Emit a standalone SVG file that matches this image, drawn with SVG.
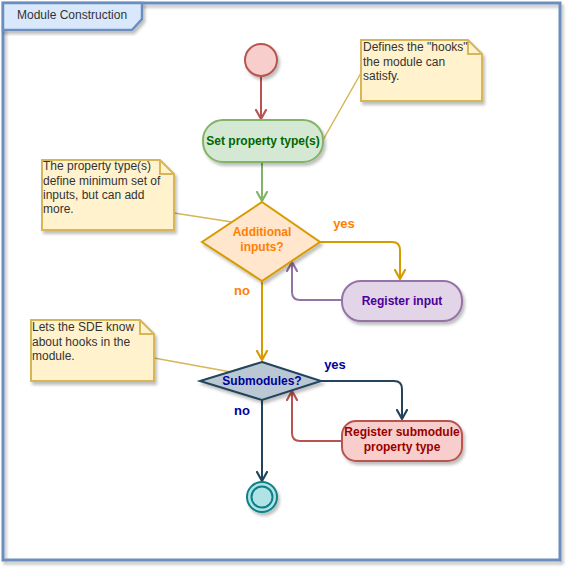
<svg xmlns="http://www.w3.org/2000/svg" width="577" height="578" viewBox="0 0 577 578">
  <defs>
    <filter id="shadow" x="-20%" y="-20%" width="140%" height="140%">
      <feDropShadow dx="2" dy="3" stdDeviation="1.5" flood-color="#000" flood-opacity="0.25"/>
    </filter>
    <marker id="ah-red" viewBox="0 0 12 12" refX="10" refY="6" markerWidth="12" markerHeight="12" markerUnits="userSpaceOnUse" orient="auto">
      <path d="M1,1 L10,6 L1,11" fill="none" stroke="#b85450" stroke-width="2.2" stroke-linejoin="round" stroke-linecap="round"/>
    </marker>
    <marker id="ah-green" viewBox="0 0 12 12" refX="10" refY="6" markerWidth="12" markerHeight="12" markerUnits="userSpaceOnUse" orient="auto">
      <path d="M1,1 L10,6 L1,11" fill="none" stroke="#82b366" stroke-width="2.2" stroke-linejoin="round" stroke-linecap="round"/>
    </marker>
    <marker id="ah-orange" viewBox="0 0 12 12" refX="10" refY="6" markerWidth="12" markerHeight="12" markerUnits="userSpaceOnUse" orient="auto">
      <path d="M1,1 L10,6 L1,11" fill="none" stroke="#d79b00" stroke-width="2.2" stroke-linejoin="round" stroke-linecap="round"/>
    </marker>
    <marker id="ah-purple" viewBox="0 0 12 12" refX="10" refY="6" markerWidth="12" markerHeight="12" markerUnits="userSpaceOnUse" orient="auto">
      <path d="M1,1 L10,6 L1,11" fill="none" stroke="#9673a6" stroke-width="2.2" stroke-linejoin="round" stroke-linecap="round"/>
    </marker>
    <marker id="ah-navy" viewBox="0 0 12 12" refX="10" refY="6" markerWidth="12" markerHeight="12" markerUnits="userSpaceOnUse" orient="auto">
      <path d="M1,1 L10,6 L1,11" fill="none" stroke="#23445d" stroke-width="2.2" stroke-linejoin="round" stroke-linecap="round"/>
    </marker>
  </defs>
  <style>
    text { font-family: "Liberation Sans", Arial, Helvetica, sans-serif; }
    .note { fill: #fff2cc; stroke: #d6b656; stroke-width: 2; filter: url(#shadow); }
    .note-text { font-size: 12px; fill: #333333; }
    .box-text { font-size: 12px; font-weight: bold; text-anchor: middle; }
    .edge { fill: none; stroke-width: 2; }
    .note-link { fill: none; stroke: #d6b656; stroke-width: 1.5; }
    .edge-label { font-size: 13px; font-weight: bold; text-anchor: middle; }
  </style>

  <rect width="577" height="578" fill="#ffffff"/>

  <!-- frame -->
  <g id="frame">
    <rect x="3" y="3" width="557" height="557" fill="none" stroke="#6c8ebf" stroke-width="3" filter="url(#shadow)"/>
    <path d="M3,3 H142 V19 L132,30 H3 Z" fill="#dae8fc" stroke="#6c8ebf" stroke-width="2.5" filter="url(#shadow)"/>
    <text x="17" y="19" font-size="12" fill="#333333">Module Construction</text>
  </g>

  <!-- note links -->
  <g id="note-links">
    <line class="note-link" x1="361" y1="73" x2="323" y2="140"/>
    <line class="note-link" x1="174" y1="213" x2="232" y2="222"/>
    <line class="note-link" x1="154" y1="358" x2="231" y2="372"/>
  </g>

  <!-- connectors -->
  <g id="connectors">
    <path class="edge" stroke="#b85450" d="M261,77 V119" marker-end="url(#ah-red)"/>
    <path class="edge" stroke="#82b366" d="M262,162 V201" marker-end="url(#ah-green)"/>
    <path class="edge" stroke="#d79b00" d="M320,242 H392 Q400,242 400,250 V279" marker-end="url(#ah-orange)"/>
    <path class="edge" stroke="#9673a6" d="M342,300 H300 Q292,300 292,292 V262" marker-end="url(#ah-purple)"/>
    <path class="edge" stroke="#d79b00" d="M262,280 V360" marker-end="url(#ah-orange)"/>
    <path class="edge" stroke="#23445d" d="M321,381 H394 Q402,381 402,389 V419" marker-end="url(#ah-navy)"/>
    <path class="edge" stroke="#b85450" d="M342,441 H300 Q292,441 292,433 V391" marker-end="url(#ah-red)"/>
    <path class="edge" stroke="#23445d" d="M262,400 V481" marker-end="url(#ah-navy)"/>
  </g>

  <!-- edge labels -->
  <g id="edge-labels">
    <rect x="331" y="216" width="26" height="14" fill="#ffffff"/>
    <text class="edge-label" x="344" y="228" fill="#ff8000">yes</text>
    <rect x="232" y="283" width="20" height="14" fill="#ffffff"/>
    <text class="edge-label" x="242" y="295" fill="#ff8000">no</text>
    <rect x="322" y="357" width="26" height="14" fill="#ffffff"/>
    <text class="edge-label" x="335" y="369" fill="#000099">yes</text>
    <rect x="232" y="403" width="20" height="14" fill="#ffffff"/>
    <text class="edge-label" x="242" y="415" fill="#000099">no</text>
  </g>

  <g id="start">
    <circle cx="261" cy="60" r="16" fill="#f8cecc" stroke="#b85450" stroke-width="2" filter="url(#shadow)"/>
  </g>

  <g id="set-property-type">
    <rect x="203" y="120" width="120" height="42" rx="20" fill="#d5e8d4" stroke="#82b366" stroke-width="2" filter="url(#shadow)"/>
    <text class="box-text" x="263" y="145" fill="#006600">Set property type(s)</text>
  </g>

  <g id="additional-inputs">
    <polygon points="262,202 320,242 262,281 202,242" fill="#ffe6cc" stroke="#d79b00" stroke-width="2" filter="url(#shadow)"/>
    <text class="box-text" x="262" y="236" fill="#ff8000">Additional</text>
    <text class="box-text" x="262" y="251" fill="#ff8000">inputs?</text>
  </g>

  <g id="register-input">
    <rect x="342" y="281" width="120" height="40" rx="19" fill="#e1d5e7" stroke="#9673a6" stroke-width="2" filter="url(#shadow)"/>
    <text class="box-text" x="402" y="305" fill="#4c0099">Register input</text>
  </g>

  <g id="submodules">
    <polygon points="262,362 321,381 262,400 200,381" fill="#bac8d3" stroke="#23445d" stroke-width="2" filter="url(#shadow)"/>
    <text class="box-text" x="262" y="385" fill="#000099">Submodules?</text>
  </g>

  <g id="register-submodule">
    <rect x="342" y="421" width="120" height="40" rx="14" fill="#f8cecc" stroke="#b85450" stroke-width="2" filter="url(#shadow)"/>
    <text class="box-text" x="402" y="436" fill="#990000">Register submodule</text>
    <text class="box-text" x="402" y="451" fill="#990000">property type</text>
  </g>

  <g id="end">
    <circle cx="262" cy="497" r="15" fill="#b0e3e6" stroke="#0e8088" stroke-width="2" filter="url(#shadow)"/>
    <circle cx="262" cy="497" r="10.5" fill="none" stroke="#0e8088" stroke-width="2"/>
  </g>

  <g id="note-hooks">
    <path class="note" d="M361,40 H468 L482,54 V101 H361 Z"/>
    <path d="M468,40 V54 H482" fill="none" stroke="#d6b656" stroke-width="2"/>
    <text class="note-text" x="363" y="51">Defines the "hooks"</text>
    <text class="note-text" x="363" y="66">the module can</text>
    <text class="note-text" x="363" y="80">satisfy.</text>
  </g>

  <g id="note-inputs">
    <path class="note" d="M42,160 H160 L174,174 V230 H42 Z"/>
    <path d="M160,160 V174 H174" fill="none" stroke="#d6b656" stroke-width="2"/>
    <text class="note-text" x="43" y="170">The property type(s)</text>
    <text class="note-text" x="43" y="185">define minimum set of</text>
    <text class="note-text" x="43" y="199">inputs, but can add</text>
    <text class="note-text" x="43" y="213">more.</text>
  </g>

  <g id="note-sde">
    <path class="note" d="M31,320 H140 L154,334 V381 H31 Z"/>
    <path d="M140,320 V334 H154" fill="none" stroke="#d6b656" stroke-width="2"/>
    <text class="note-text" x="32" y="331">Lets the SDE know</text>
    <text class="note-text" x="32" y="346">about hooks in the</text>
    <text class="note-text" x="32" y="360">module.</text>
  </g>
</svg>
